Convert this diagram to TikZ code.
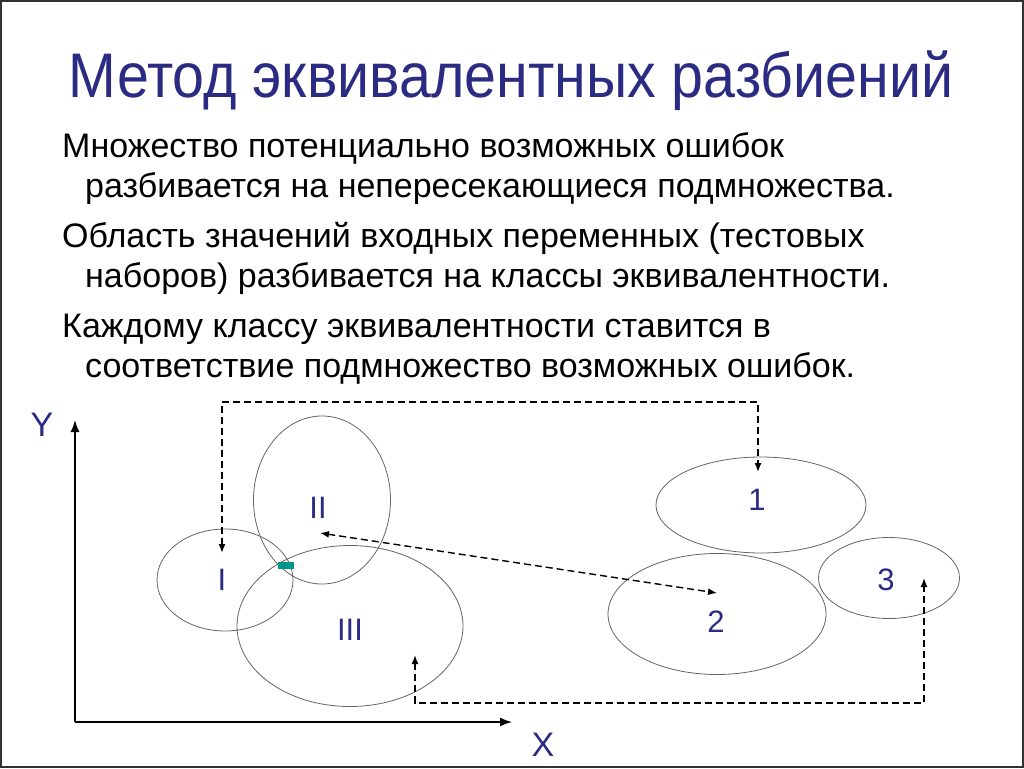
\documentclass[tikz,border=0pt]{standalone}
\usepackage{fontspec}
\setmainfont{Liberation Sans}
\usetikzlibrary{shapes.geometric,arrows.meta}
\definecolor{navy}{RGB}{43,43,131}
\definecolor{ellgray}{RGB}{100,100,100}
\definecolor{tealmark}{RGB}{0,150,140}
\tikzset{
  body/.style={anchor=base west,inner sep=0pt,font=\fontsize{34}{34}\selectfont},
  ell/.style={ellipse,draw=ellgray,line width=0.8pt,inner sep=0pt},
  lab/.style={text=navy,inner sep=0pt,font=\fontsize{31}{31}\selectfont},
  dlink/.style={dashed,dash pattern=on 7pt off 4pt,line width=1.4pt,{Latex[length=9pt,width=7pt]}-{Latex[length=9pt,width=7pt]}},
  axis/.style={line width=1.5pt,-{Latex[length=12pt,width=9pt]}},
}
\begin{document}
\begin{tikzpicture}[x=1pt,y=-1pt]
\useasboundingbox (0,0) rectangle (1024,768);
\draw[line width=1.5pt,black!80] (1,1) rectangle (1023,767);
% title
\node[anchor=base,text=navy,inner sep=0pt,xscale=0.91,font=\fontsize{63}{63}\selectfont] (title) at (511,97) {Метод эквивалентных разбиений};
% body
\node[body] (t1) at (62,157) {Множество потенциально возможных ошибок};
\node[body] (t2) at (85,197) {разбивается на непересекающиеся подмножества.};
\node[body] (t3) at (62,247) {Область значений входных переменных (тестовых};
\node[body] (t4) at (85,287) {наборов) разбивается на классы эквивалентности.};
\node[body] (t5) at (62,337) {Каждому классу эквивалентности ставится в};
\node[body] (t6) at (85,377) {соответствие подмножество возможных ошибок.};
% axes
\coordinate (O) at (75,722);
\coordinate (Yend) at (75,420);
\coordinate (Xend) at (512,722);
\draw[axis] (O) -- (Yend);
\draw[axis] (O) -- (Xend);
\node[text=navy,inner sep=0pt,font=\fontsize{34}{34}\selectfont] (Y) at (42,425) {Y};
\node[text=navy,inner sep=0pt,font=\fontsize{34}{34}\selectfont] (X) at (543,745) {X};
% ellipses
\node[ell,minimum width=136pt,minimum height=102pt] (eI) at (225,580) {};
\node[ell,minimum width=137pt,minimum height=168pt] (eII) at (322,500) {};
\node[ell,minimum width=226pt,minimum height=161pt] (eIII) at (350,626) {};
\node[ell,minimum width=210pt,minimum height=96pt] (e1) at (761,505) {};
\node[ell,minimum width=218pt,minimum height=121pt] (e2) at (717,614) {};
\node[ell,minimum width=141pt,minimum height=81pt] (e3) at (889,578) {};
% labels
\node[lab] (lI) at (222,580) {I};
\node[lab] (lII) at (318,508) {II};
\node[lab] (lIII) at (350,630) {III};
\node[lab] (l1) at (757,500) {1};
\node[lab] (l2) at (716,622) {2};
\node[lab] (l3) at (886,580) {3};
% teal mark
\fill[tealmark] (278,562) rectangle (294,569);
% connectors
\coordinate (aI) at (222,553);
\coordinate (a1) at (758,472);
\coordinate (aII) at (320,533);
\coordinate (a2) at (717,593);
\coordinate (aIII) at (415,655);
\coordinate (a3) at (924,578);
\draw[dlink] (aI) -- (222,402) -- (758,402) -- (a1);
\draw[dlink] (aII) -- (a2);
\draw[dlink] (aIII) -- (415,703) -- (924,703) -- (a3);
\end{tikzpicture}
\end{document}
